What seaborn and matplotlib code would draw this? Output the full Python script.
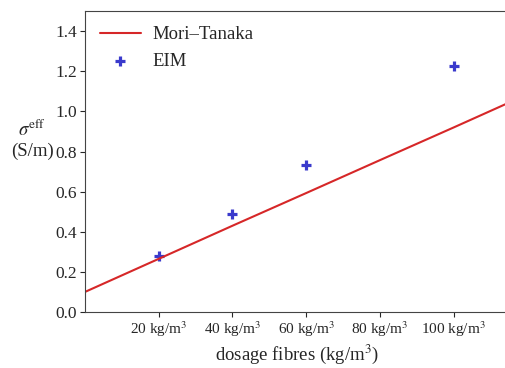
import seaborn as sns
import matplotlib.pyplot as plt
import pandas as pd

# dosage (kg/m3) et conductivité effective (S/m)
mt_dosage = [0, 20, 40, 60, 80, 100, 120]
mt_sigma = [0.10, 0.265, 0.43, 0.593, 0.757, 0.92, 1.085]
eim_dosage = [20, 40, 60, 100]
eim_sigma = [0.28, 0.49, 0.735, 1.225]
xtick_vals = [20, 40, 60, 80, 100]
xtick_labels = [f"{v} kg/m$^3$" for v in xtick_vals]

sns.set_style("ticks")
plt.rcParams["font.family"] = ["Liberation Serif", "DejaVu Serif"]
plt.rcParams["mathtext.fontset"] = "stix"

df_mt = pd.DataFrame({"dosage": mt_dosage, "sigma": mt_sigma})
df_eim = pd.DataFrame({"dosage": eim_dosage, "sigma": eim_sigma})

fig = plt.figure(figsize=(5.05, 3.68), dpi=100)
ax = fig.add_axes([0.168, 0.152, 0.84, 0.818])

sns.lineplot(data=df_mt, x="dosage", y="sigma", color="#d62728", linewidth=1.5,
             label="Mori–Tanaka", ax=ax)
sns.scatterplot(data=df_eim, x="dosage", y="sigma", marker="+", s=60, linewidth=2.3,
                color="#3a3acc", label="EIM", ax=ax)

ax.set_xlim(0, 115)
ax.set_ylim(0, 1.5)
ax.set_xticks(xtick_vals)
ax.set_xticklabels(xtick_labels, fontsize=11)
ax.set_yticks([0.0, 0.2, 0.4, 0.6, 0.8, 1.0, 1.2, 1.4])
ax.tick_params(axis="y", labelsize=12.5, pad=2, length=3.5)
ax.tick_params(axis="x", pad=1.5, length=3.5)
ax.set_xlabel("dosage fibres (kg/m$^3$)", fontsize=13.5, labelpad=3)
ax.set_ylabel("$\\sigma^{\\mathrm{eff}}$\n(S/m)", fontsize=13.5, rotation=0)
ax.yaxis.set_label_coords(-0.124, 0.505)
for s in ax.spines.values():
    s.set_color("#444444")
ax.legend(loc="upper left", frameon=False, fontsize=13.5, borderaxespad=0.4,
          handlelength=2.2, handletextpad=0.6)

plt.savefig("out.png", dpi=100)
